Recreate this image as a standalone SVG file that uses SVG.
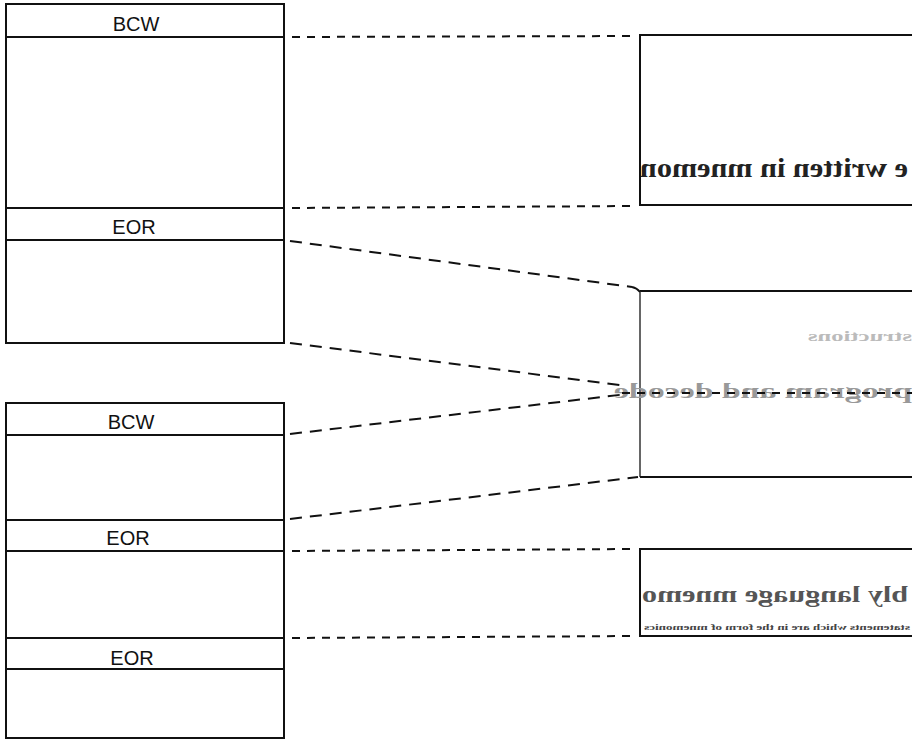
<svg xmlns="http://www.w3.org/2000/svg" width="912" height="740" viewBox="0 0 912 740">
<style>
.blk{fill:none;stroke:#111;stroke-width:2}
.div{stroke:#111;stroke-width:2}
.lbl{font-family:"Liberation Sans",Arial,sans-serif;font-size:20px;fill:#111;text-anchor:middle}
.dshort{stroke:#111;stroke-width:2;stroke-dasharray:8 7;fill:none}
.dlong{stroke:#111;stroke-width:2;stroke-dasharray:12 8;fill:none}
.mir{font-family:"Liberation Serif","Times New Roman",serif;font-weight:bold}
</style>
<defs>
<clipPath id="c1"><rect x="641" y="36" width="271" height="169"/></clipPath>
<clipPath id="c3"><rect x="641" y="550" width="271" height="85"/></clipPath>
</defs>
<rect width="912" height="740" fill="#fff"/>

<g id="block1">
<rect class="blk" x="6" y="4" width="278" height="339"/>
<line class="div" x1="6" y1="37" x2="284" y2="37"/>
<line class="div" x1="6" y1="208" x2="284" y2="208"/>
<line class="div" x1="6" y1="240" x2="284" y2="240"/>
<text class="lbl" x="136" y="31">BCW</text>
<text class="lbl" x="134" y="234">EOR</text>
</g>

<g id="block2">
<rect class="blk" x="6" y="403" width="278" height="335"/>
<line class="div" x1="6" y1="435" x2="284" y2="435"/>
<line class="div" x1="6" y1="520" x2="284" y2="520"/>
<line class="div" x1="6" y1="551" x2="284" y2="551"/>
<line class="div" x1="6" y1="638" x2="284" y2="638"/>
<line class="div" x1="6" y1="669" x2="284" y2="669"/>
<text class="lbl" x="131" y="429">BCW</text>
<text class="lbl" x="128" y="545">EOR</text>
<text class="lbl" x="132" y="665">EOR</text>
</g>

<g id="box1">
<polyline class="blk" points="920,35 640,35 640,205 920,205"/>
<g clip-path="url(#c1)">
<text class="mir" transform="translate(1548,0) scale(-1,1)" x="640" y="177" font-size="28" fill="#222" textLength="268" lengthAdjust="spacingAndGlyphs">e written in mnemon</text>
</g>
</g>

<g id="box2">
<line x1="640" y1="291" x2="920" y2="291" stroke="#111" stroke-width="2"/>
<line x1="640" y1="291" x2="640" y2="477" stroke="#333" stroke-width="1.5"/>
<line x1="640" y1="477" x2="920" y2="477" stroke="#111" stroke-width="2"/>
<text class="mir" transform="translate(1720,0) scale(-1,1)" x="808" y="341" font-size="14" fill="#bbb" font-weight="normal" textLength="104" lengthAdjust="spacingAndGlyphs">structions</text>
<text class="mir" transform="translate(1524,0) scale(-1,1)" x="612" y="398" font-size="22" fill="#999" textLength="298" lengthAdjust="spacingAndGlyphs">program and decode</text>
</g>

<g id="box3">
<polyline class="blk" points="920,549 640,549 640,636 920,636"/>
<g clip-path="url(#c3)">
<text class="mir" transform="translate(1550,0) scale(-1,1)" x="642" y="602" font-size="24" fill="#555" textLength="266" lengthAdjust="spacingAndGlyphs">bly language mnemo</text>
<text class="mir" transform="translate(1552,0) scale(-1,1)" x="642" y="630" font-size="9" fill="#444" textLength="266" lengthAdjust="spacingAndGlyphs">statements which are in the form of mnemonics</text>
</g>
</g>

<g id="connectors">
<line class="dshort" x1="292" y1="37" x2="636" y2="36"/>
<line class="dshort" x1="292" y1="208" x2="636" y2="206"/>
<path class="dlong" d="M290,241 L632,287"/>
<path d="M632,287 Q637,288 640,292" stroke="#111" stroke-width="2" fill="none"/>
<line class="dlong" x1="290" y1="343" x2="627" y2="386"/>
<line class="dlong" x1="290" y1="434" x2="627" y2="394"/>
<line class="dlong" x1="290" y1="519" x2="638" y2="477"/>
<line class="dshort" x1="622" y1="393" x2="912" y2="393" stroke="#444"/>
<line class="dshort" x1="292" y1="551" x2="636" y2="549"/>
<line class="dshort" x1="292" y1="638" x2="636" y2="636"/>
</g>
</svg>
